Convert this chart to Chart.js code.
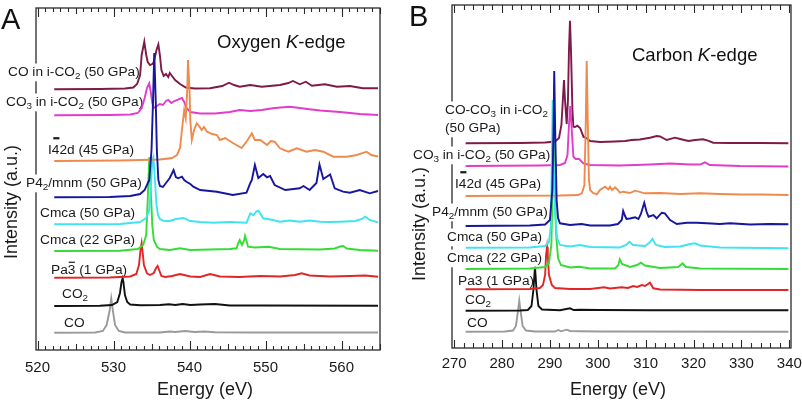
<!DOCTYPE html>
<html><head><meta charset="utf-8">
<script src="https://cdn.jsdelivr.net/npm/chart.js@4.4.1/dist/chart.umd.min.js"></script>
<style>
html,body{margin:0;padding:0;background:#fff;}
body{width:802px;height:402px;overflow:hidden;position:relative;}
#cA{position:absolute;left:0;top:0;}
#cB{position:absolute;left:400px;top:0;}
</style></head>
<body>
<canvas id="cA" width="400" height="402"></canvas>
<canvas id="cB" width="402" height="402"></canvas>
<script>
// ---------------- DATA: Panel A (Oxygen K-edge) ----------------
const oxTicks = [520, 530, 540, 550, 560];
const oCOiCO2_E = [522.2,528.2,531.5,532.6,533.1,533.5,533.7,534.05,534.3,534.5,534.8,535.1,535.3,535.65,535.9,536.1,536.3,536.6,536.9,537.2,537.4,537.7,538.1,538.75,539.5,540.7,542.7,544.3,545.2,545.85,546.6,548.0,549.5,551.9,553.0,553.6,554.5,555.3,556.1,557.8,559.4,561.1,562.8,564.8];
const oCOiCO2_I = [260.7,261,261.5,262.5,266,275,295,308.3,295,288,285,286,288,300,305.7,295,280,274,276,273,277,274,270,266,262.5,261.5,261.7,264,267.3,265,263.3,265,263.3,265,267,269,265.7,268.3,264.3,265.7,263.3,264,261.7,261.7];
const oCO3iCO2_E = [522.2,529.5,532.2,533.2,533.7,534.1,534.4,534.7,534.9,535.1,535.3,535.7,536.1,536.5,536.9,537.2,537.6,538.0,538.4,538.6,539.0,539.3,539.6,540.1,541.4,543.35,545.3,546.6,548.0,549.5,551.2,553.2,554.5,555.5,557.2,559.8,562.4,564.8];
const oCO3iCO2_I = [234.7,235,235.5,237,242,252,262,266.7,258,247,242,244,246,245,249,250,247,249,250,251,252,248,242,238,236.5,236.5,238,240,239,240,242,243.3,242,241,239.5,238,236,235];
const oI42d_E = [522.2,530.85,536.1,537.7,538.35,538.75,539.0,539.3,539.5,539.7,539.8,540.0,540.1,540.3,540.6,540.95,541.25,541.6,541.9,542.3,543.0,543.6,544.0,544.7,545.7,546.85,547.5,548.2,548.6,549.3,550.2,550.7,551.2,551.9,553.0,554.1,555.4,556.5,557.6,558.9,560.7,562.0,563.3,563.9,564.8];
const oI42d_I = [189,189.5,190.5,192,195,202,220,240,232,260,290,260,230,210,220,226.7,224,220,223,218.3,216,215,210,212,207,202,208.3,216.7,210,210,205,209,208.3,201.7,198.3,201.7,198.3,200,198.3,193.3,193.3,195,198.3,195,193.5];
const oP42_E = [522.2,529.5,532.2,533.5,534.1,534.7,535.0,535.2,535.36,535.55,535.7,535.9,536.1,536.5,536.9,537.4,537.9,538.2,538.5,539.0,539.3,539.6,540.1,540.5,541.4,543.6,545.7,547.5,548.0,548.2,548.6,549.05,549.7,550.2,550.6,551.2,552.6,554.5,555.0,555.8,556.7,557.1,557.6,558.5,559.1,560.2,561.1,562.4,563.7,564.8];
const oP42_I = [152.7,153,154,156,160,170,200,250,297,250,200,170,164,163,167,172,180,173,171.7,173.3,170,168.3,166,163.3,160,158.3,155,157.3,167,170,185,172,176,172.7,174,165,160,161.7,164,160,167,185.5,171,175.5,161.7,158.3,157.3,160,156.7,159];
const oCmca50_E = [522.2,530.85,533.5,534.3,534.7,534.9,535.1,535.25,535.45,535.65,535.85,536.1,536.55,537.4,538.2,539.2,540.1,541.4,543.1,545.3,547.5,548.0,548.4,548.8,549.05,549.7,551.0,551.9,553.2,554.5,555.8,557.2,558.5,559.8,561.8,562.7,563.1,563.7,564.8];
const oCmca50_I = [125.7,126,128,132,140,160,190,193,170,145,135,131,129.3,129,131,132,129,128,127.3,128,127.3,136.7,135,138.5,139.3,131.7,130,128.3,129.5,128.3,129.5,128.3,128,128.3,129,131,133.3,130,127.7];
const oCmca22_E = [522.2,530.85,533.2,533.9,534.3,534.5,534.7,534.9,535.1,535.3,535.7,536.1,537.4,538.75,540.1,542.7,545.3,546.2,546.4,546.6,546.9,547.2,547.3,547.5,547.7,548.6,550.4,551.9,554.5,557.2,559.1,559.8,560.2,560.7,562.4,564.8];
const oCmca22_I = [99,99.3,101,105,115,150,193,160,125,110,103.3,101,100,101.7,100,100.5,101,101.7,107,110,105,110,114,109,103.3,102.5,103.3,101,100.7,100.5,101.5,103.5,104,101.5,100,99.3];
const oPa3_E = [522.2,529.5,532.2,533.0,533.35,533.55,533.7,533.8,534.0,534.4,534.8,535.3,535.6,535.8,536.0,536.3,536.8,537.7,538.75,540.1,541.4,542.7,544.0,546.6,549.3,551.9,553.9,554.75,555.8,558.5,561.1,563.1,564.8];
const oPa3_I = [72.3,72.5,73.5,76,85,100,106.7,100,85,76.7,75,77,82,84,80,74,73,74,76,73.5,73,76,73.5,73,74,73.5,75,76.7,74.5,73.5,74,74.5,73.3];
const oCO2_E = [522.2,528.2,529.8,530.5,530.85,531.05,531.2,531.3,531.5,531.8,532.2,533.5,536.1,537.3,538.1,539.1,540.1,541.4,543.35,545.3,549.3,564.8];
const oCO2_I = [44,44.3,45,48,57,68,71.7,68,55,48,45.5,44.7,45,45.7,45,46,45,45.5,46,44.5,44.5,44.3];
const oCO_E = [522.2,527.6,528.6,529.1,529.5,529.7,529.9,530.2,530.7,531.5,536.1,537.4,538.1,539.4,540.7,542.0,543.35,548.0,564.8];
const oCO_I = [17.3,17.5,19,25,40,51.7,40,25,19,17.5,17.5,18.5,18,19,18,18.5,17.7,17.5,17.5];

// ---------------- DATA: Panel B (Carbon K-edge) ----------------
const cTicks = [270, 280, 290, 300, 310, 320, 330, 340];
const cCOCO3_E = [272.4,283.75,289.0,291.06,291.9,292.4,292.7,292.94,293.15,293.5,293.77,293.98,294.19,294.4,294.7,294.9,295.24,295.7,296.3,297.0,297.7,298.4,300.46,303.6,305.7,307.1,308.8,310.9,312.3,313.0,314.4,316.1,317.2,318.9,320.3,322.0,323.0,324.1,327.6,333.9,339.8];
const cCOCO3_I = [204.7,205,205.5,206.5,210,223,248,268,248,224,248,298,327.3,298,238,221.3,221,222.3,220,211.3,209.7,207,206,206.5,207,208,208.5,210.3,212,211.5,208,210.3,209,207,208,208.7,207.3,205.3,205,205,204.7];
const cCO3_E = [272.4,287.9,292.1,293.15,293.67,293.98,294.25,294.5,294.9,295.4,296.1,297.0,298.4,304.6,310.9,315.1,319.3,321.35,322.4,323.4,329.7,339.8];
const cCO3_I = [182,182.5,183,185,193,223,242,223,191.3,189,189,184.7,183,182.5,183.5,184.5,183.5,183.5,185.7,183,182,181.5];
const cI42d_E = [272.4,292.1,295.9,296.7,297.2,297.5,297.68,297.9,298.15,298.4,299.0,299.8,300.46,301.5,302.2,302.55,302.97,303.6,304.2,304.6,305.3,306.7,307.8,309.86,313.0,317.2,321.35,325.5,329.7,333.9,339.8];
const cI42d_I = [152,152.5,153,155,163,228,287,228,168,158,155,153.7,158,161.3,158.7,161.3,158,160.7,158,155.3,156.3,155,157.3,154.7,155,154,154.7,154,153.5,153.5,153];
const cP42_E = [272.4,285.8,289.0,290.0,290.5,290.75,290.9,291.1,291.4,291.7,292.1,294.2,296.6,298.4,302.55,304.2,305.0,305.3,305.7,306.0,306.7,307.8,308.5,309.0,309.7,310.2,310.6,311.6,312.3,313.35,314.0,315.1,316.5,318.6,320.65,322.75,325.5,327.6,331.8,335.96,339.8];
const cP42_I = [122,122.5,123.5,128,158,218,277,218,148,130,124.7,123,124,122.5,122.5,124,128,137,132,129,129.5,130.7,129,134,145.3,136,131.3,133,129.7,135.3,134.7,128,124,125.3,125.3,124.7,124,124.7,123.5,124,123.7];
const cCmca50_E = [272.4,285.8,289.0,289.8,290.2,290.4,290.58,290.75,291.1,291.5,292.1,294.2,296.3,298.4,304.6,305.9,306.6,307.35,309.86,310.7,311.4,312.15,314.0,317.2,319.3,320.3,321.35,325.5,339.8];
const cCmca50_I = [100.3,100.5,102,106,123,188,248,188,133,110,103,101.5,103,101,100.5,103,106.3,103,102,105,109,103,101,101.5,104,104.7,102.5,100.5,99.7];
const cCmca22_E = [272.4,285.8,289.0,289.8,290.3,290.6,290.8,290.95,291.3,291.7,292.3,294.2,296.1,298.4,303.6,304.3,304.6,305.05,306.7,308.2,309.0,309.86,313.0,316.8,317.7,318.4,321.35,339.8];
const cCmca22_I = [79,79.5,81,85,103,168,210,168,113,90,83,80.5,81.3,79.5,79.5,83,88.7,84,81,83,85.3,82.5,80,81,84.7,81,79.5,79];
const cPa3_E = [272.4,285.8,287.9,288.55,289.0,289.2,289.4,289.55,289.8,290.4,291.06,294.2,298.4,301.3,302.55,305.0,306.3,307.4,308.2,309.2,309.86,310.9,311.6,313.0,321.35,339.8];
const cPa3_I = [58.7,59,60,63,73,93,101,93,73,63,60,59,59,60.7,59.5,60.7,60,62,61,63,62,65.3,59.7,58.5,58,58];
const cCO2_E = [272.4,283.75,285.4,286.15,286.55,286.88,287.2,287.6,288.35,292.1,294.19,295.0,296.3,300.46,310.9,339.8];
const cCO2_I = [37.3,37.5,38,42,58,81.3,58,42,38.5,37.7,39.7,38,38.2,38,37.8,37.7];
const cCO_E = [272.4,280.6,282.3,282.9,283.3,283.6,283.9,284.3,285.0,286.9,291.06,291.75,292.3,293.5,294.2,296.3,300.46,339.8];
const cCO_I = [16.3,16.5,17.5,22,36,47.3,36,22,17.5,16.5,16.5,18,16.7,18.3,17,16.7,16.5,16.3];

// ---------------- STYLE ----------------
const FONT = '"Liberation Sans", Arial, Helvetica, sans-serif';
const COL = {maroon:'#7e1a4a', magenta:'#e23ccc', orange:'#f08a4c', blue:'#16169e', cyan:'#3fe4f0', green:'#35dc35', red:'#e22626', black:'#111111', gray:'#9a9a9a'};

function zip(E, I){ const n=Math.min(E.length,I.length); const out=[]; for(let i=0;i<n;i++) out.push({x:E[i], y:I[i]}); return out; }

// rich text: segs = [[text, style]], style: '' | 'sub' | 'it' | 'barHi' | 'barLo'
function measureRich(ctx, segs, size){
  let w=0;
  for(const [t,st] of segs){
    const fs = st==='sub' ? size*0.72 : size;
    ctx.font = (st==='it'?'italic ':'') + fs + 'px ' + FONT;
    w += ctx.measureText(t).width;
  }
  return w;
}
function drawRich(ctx, segs, x, cy, size, color, bg){
  ctx.save();
  ctx.textBaseline='middle'; ctx.textAlign='left';
  const w = measureRich(ctx, segs, size);
  if(bg){ ctx.fillStyle='#fff'; ctx.fillRect(x-1, cy-size*0.62, w+2, size*1.3); }
  ctx.fillStyle=color;
  let cx=x;
  for(const [t,st] of segs){
    let fs=size, dy=0;
    if(st==='sub'){ fs=size*0.72; dy=size*0.32; }
    ctx.font=(st==='it'?'italic ':'') + fs + 'px ' + FONT;
    ctx.fillText(t, cx, cy+dy);
    const tw=ctx.measureText(t).width;
    if(st==='barHi'){ ctx.fillRect(cx+1.5, cy-size*0.5-6, tw-1.5, 2.2); }
    if(st==='barLo'){ ctx.fillRect(cx+1, cy-size*0.5-1.5, tw-1.5, 1.2); }
    cx+=tw;
  }
  ctx.restore();
}

// labels (text content + layout in canvas pixels)
const labelsA = [
  {segs:[['CO in i-CO',''],['2','sub'],[' (50 GPa)','']], x:8, cy:72},
  {segs:[['CO',''],['3','sub'],[' in i-CO',''],['2','sub'],[' (50 GPa)','']], x:6, cy:102},
  {segs:[['I',''],['4','barHi'],['2d (45 GPa)','']], x:48, cy:150},
  {segs:[['P4',''],['2','sub'],['/mnm (50 GPa)','']], x:26, cy:183},
  {segs:[['Cmca (50 GPa)','']], x:40, cy:213},
  {segs:[['Cmca (22 GPa)','']], x:40, cy:240},
  {segs:[['Pa',''],['3','barLo'],[' (1 GPa)','']], x:51, cy:270},
  {segs:[['CO',''],['2','sub']], x:62, cy:294},
  {segs:[['CO','']], x:64, cy:323}
];
const labelsB = [
  {segs:[['CO-CO',''],['3','sub'],[' in i-CO',''],['2','sub']], x:45, cy:110},
  {segs:[['(50 GPa)','']], x:45, cy:128},
  {segs:[['CO',''],['3','sub'],[' in i-CO',''],['2','sub'],[' (50 GPa)','']], x:13, cy:155},
  {segs:[['I',''],['4','barHi'],['2d (45 GPa)','']], x:55, cy:184},
  {segs:[['P4',''],['2','sub'],['/mnm (50 GPa)','']], x:32, cy:212},
  {segs:[['Cmca (50 GPa)','']], x:47, cy:237},
  {segs:[['Cmca (22 GPa)','']], x:47, cy:258},
  {segs:[['Pa3 (1 GPa)','']], x:58, cy:281},
  {segs:[['CO',''],['2','sub']], x:65, cy:300},
  {segs:[['CO','']], x:67, cy:323}
];

const framePlugin = {
  id:'frame',
  beforeDatasetsDraw(chart, args, o){
    const {ctx, chartArea:a} = chart; const x = chart.scales.x;
    ctx.save();
    ctx.strokeStyle='#2a2a2a'; ctx.lineWidth=1.3;
    ctx.strokeRect(a.left, a.top, a.right-a.left, a.bottom-a.top);
    ctx.lineWidth=1.1;
    const start = Math.ceil((x.min-1e-9)/o.minor)*o.minor;
    for(let v=start; v<=x.max+1e-9; v+=o.minor){
      const vr = Math.round(v*1000)/1000;
      let len=o.lenMinor;
      if(Math.abs(vr/o.major-Math.round(vr/o.major))<1e-6) len=o.lenMajor;
      else if(o.mid && Math.abs(vr/o.mid-Math.round(vr/o.mid))<1e-6) len=o.lenMid;
      const px = Math.round(x.getPixelForValue(vr))+0.5;
      ctx.beginPath();
      ctx.moveTo(px, a.bottom); ctx.lineTo(px, a.bottom-len);
      ctx.moveTo(px, a.top); ctx.lineTo(px, a.top+len);
      ctx.stroke();
    }
    ctx.restore();
    for(const L of o.labels) drawRich(ctx, L.segs, L.x, L.cy, 13.7, '#1a1a1a', true);
  },
  afterDraw(chart, args, o){
    const ctx = chart.ctx;
    // panel letter
    ctx.save(); ctx.fillStyle='#111'; ctx.textBaseline='middle'; ctx.textAlign='left';
    ctx.font='29px '+FONT; ctx.fillText(o.letter, o.letterX, o.letterY);
    ctx.restore();
    // edge title
    drawRich(ctx, o.edge, o.edgeX, o.edgeY, 18.5, '#111', false);
    // y title
    ctx.save(); ctx.translate(o.ytX, o.ytY); ctx.rotate(-Math.PI/2);
    ctx.fillStyle='#1a1a1a'; ctx.textAlign='center'; ctx.textBaseline='middle';
    ctx.font='18px '+FONT; ctx.fillText('Intensity (a.u.)', 0, 0);
    ctx.restore();
    // x title
    ctx.save(); ctx.fillStyle='#1a1a1a'; ctx.textAlign='center'; ctx.textBaseline='middle';
    ctx.font='18px '+FONT; ctx.fillText('Energy (eV)', o.xtX, o.xtY);
    ctx.restore();
  }
};

function makeChart(id, p){
  return new Chart(document.getElementById(id), {
    type:'line',
    data:{datasets: p.series.map(s=>({data: zip(s[0], s[1]), borderColor:s[2], borderWidth:1.9, pointRadius:0, tension:0, fill:false}))},
    options:{
      responsive:false, devicePixelRatio:1, animation:false,
      layout:{padding:p.pad},
      plugins:{legend:{display:false}, tooltip:{enabled:false}, frame:p.frame},
      scales:{
        x:{type:'linear', min:p.xmin, max:p.xmax,
           afterBuildTicks:(s)=>{ s.ticks = p.ticks.map(v=>({value:v})); },
           afterFit:(s)=>{ s.height=p.xh; s.paddingLeft=0; s.paddingRight=0; },
           grid:{display:false, drawTicks:false}, border:{display:false},
           ticks:{font:{size:15, family:FONT}, color:'#1a1a1a', padding:p.tickPad, maxRotation:0, autoSkip:false},
           title:{display:false}},
        y:{display:false, min:0, max:p.ymax}
      }
    },
    plugins:[framePlugin]
  });
}

makeChart('cA', {
  xmin:519.8, xmax:565.06, ymax:342, ticks:oxTicks,
  pad:{left:36, right:20, top:8, bottom:0}, xh:52, tickPad:9,
  series:[
    [oP42_E, oP42_I, COL.blue],
    [oI42d_E, oI42d_I, COL.orange],
    [oCmca50_E, oCmca50_I, COL.cyan],
    [oCmca22_E, oCmca22_I, COL.green],
    [oPa3_E, oPa3_I, COL.red],
    [oCO3iCO2_E, oCO3iCO2_I, COL.magenta],
    [oCOiCO2_E, oCOiCO2_I, COL.maroon],
    [oCO2_E, oCO2_I, COL.black],
    [oCO_E, oCO_I, COL.gray]
  ],
  frame:{minor:1, mid:5, major:10, lenMinor:4, lenMid:6, lenMajor:9, labels:labelsA,
    letter:'A', letterX:1, letterY:21,
    edge:[['Oxygen ',''],['K','it'],['-edge','']], edgeX:217, edgeY:43,
    ytX:12, ytY:202, xtX:205, xtY:390}
});

makeChart('cB', {
  xmin:269.55, xmax:340.35, ymax:343, ticks:cTicks,
  pad:{left:52, right:11, top:5, bottom:0}, xh:54, tickPad:7,
  series:[
    [cP42_E, cP42_I, COL.blue],
    [cI42d_E, cI42d_I, COL.orange],
    [cCmca50_E, cCmca50_I, COL.cyan],
    [cCmca22_E, cCmca22_I, COL.green],
    [cPa3_E, cPa3_I, COL.red],
    [cCO3_E, cCO3_I, COL.magenta],
    [cCOCO3_E, cCOCO3_I, COL.maroon],
    [cCO2_E, cCO2_I, COL.black],
    [cCO_E, cCO_I, COL.gray]
  ],
  frame:{minor:2, mid:0, major:10, lenMinor:5, lenMid:5, lenMajor:8, labels:labelsB,
    letter:'B', letterX:9, letterY:18,
    edge:[['Carbon ',''],['K','it'],['-edge','']], edgeX:232, edgeY:56,
    ytX:20, ytY:224, xtX:218, xtY:390}
});
</script>
</body></html>
